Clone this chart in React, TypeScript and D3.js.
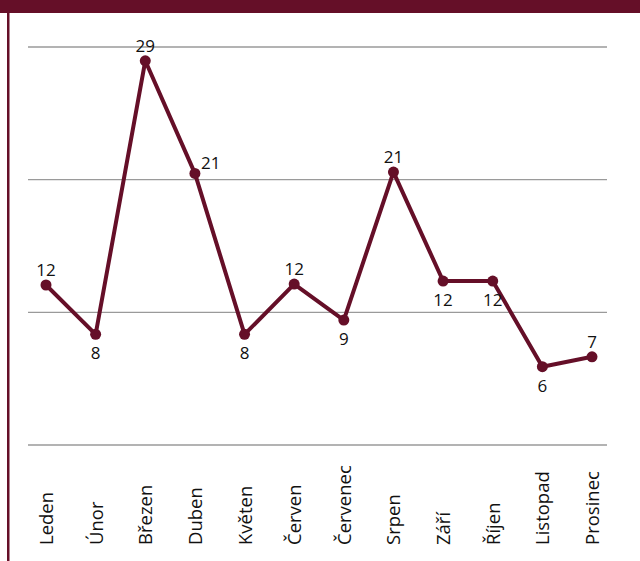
import React from "react";
import * as d3 from "d3";

const months = ["Leden", "Únor", "Březen", "Duben", "Květen", "Červen", "Červenec", "Srpen", "Září", "Říjen", "Listopad", "Prosinec"];
const values = [12.06, 8.34, 28.96, 20.47, 8.34, 12.13, 9.42, 20.57, 12.36, 12.36, 5.9, 6.65];
const valueLabels = ["12", "8", "29", "21", "8", "12", "9", "21", "12", "12", "6", "7"];
const labelPlacement = ["above", "below", "above", "right", "below", "above", "below", "above", "below", "below", "below", "above"];
const gridTicks = [0, 10, 20, 30];

const W = 640;
const H = 561;
const DARK = "#650f28";

export default function App() {
  const x = d3.scalePoint<string>().domain(months).range([46, 592]);
  const y = d3.scaleLinear().domain([0, 30]).range([445, 47]);
  const line = d3
    .line<number>()
    .x((_, i) => x(months[i]) as number)
    .y((d) => y(d));

  return (
    <svg width={W} height={H} style={{ position: "absolute", left: 0, top: 0 }} fontFamily="'Open Sans', sans-serif">
      <rect x={0} y={0} width={W} height={13} fill={DARK} />
      <rect x={7} y={13} width={2.5} height={H - 13} fill={DARK} />
      {gridTicks.map((t) => (
        <line key={t} x1={28} x2={607} y1={y(t)} y2={y(t)} stroke="#9a9a9a" strokeWidth={1.3} />
      ))}
      <path d={line(values) || ""} fill="none" stroke={DARK} strokeWidth={4} strokeLinejoin="round" />
      {values.map((v, i) => (
        <circle key={i} cx={x(months[i])} cy={y(v)} r={5.5} fill={DARK} />
      ))}
      {values.map((v, i) => {
        const px = x(months[i]) as number;
        const py = y(v);
        const p = labelPlacement[i];
        if (p === "right") {
          return (
            <text key={i} x={px + 6} y={py - 4} fontSize={17} fill="#111">
              {valueLabels[i]}
            </text>
          );
        }
        return (
          <text key={i} x={px} y={p === "above" ? py - 9 : py + 25} textAnchor="middle" fontSize={17} fill="#111">
            {valueLabels[i]}
          </text>
        );
      })}
      {months.map((m) => {
        const px = (x(m) as number) + 7;
        return (
          <text key={m} transform={`translate(${px},545) rotate(-90)`} fontSize={18.5} fill="#111">
            {m}
          </text>
        );
      })}
    </svg>
  );
}
